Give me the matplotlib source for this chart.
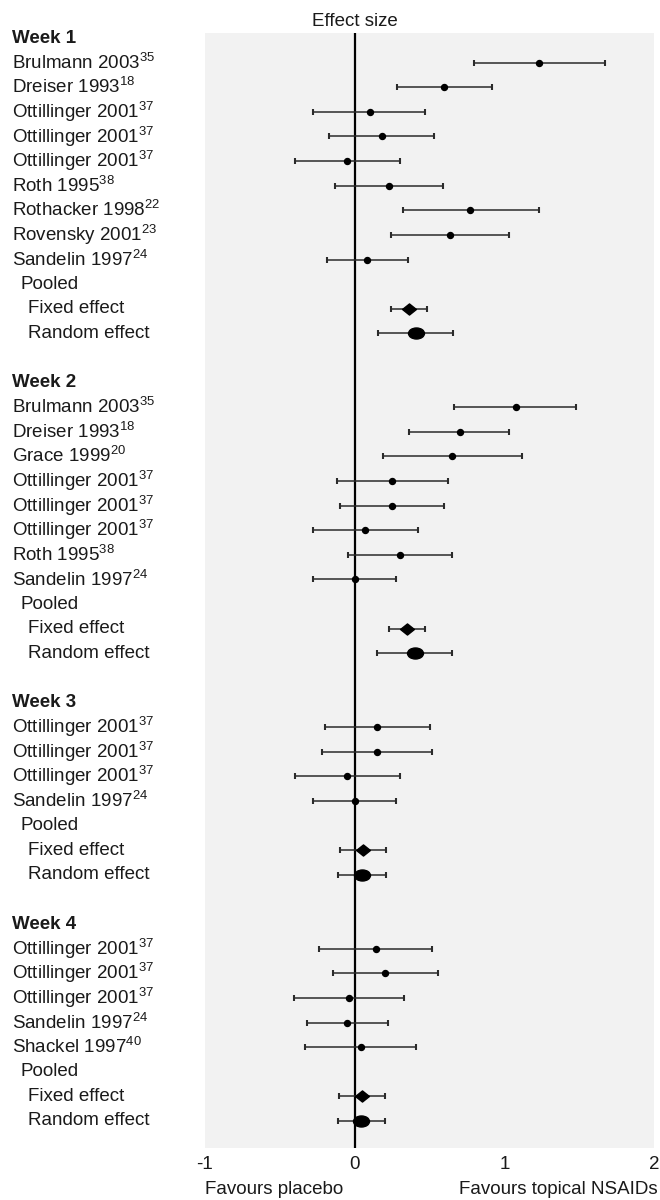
import matplotlib
matplotlib.use("Agg")
import matplotlib.pyplot as plt
from matplotlib.path import Path
from matplotlib.transforms import Affine2D, blended_transform_factory

plt.rcParams["font.family"] = ["Liberation Sans", "DejaVu Sans"]
plt.rcParams["mathtext.default"] = "regular"

# --------------------------------------------------------------------------
# Data (effect size, lower and upper 95% CI)
# --------------------------------------------------------------------------
weeks = ["Week 1", "Week 2", "Week 3", "Week 4"]

w1_studies = ["Brulmann 2003", "Dreiser 1993", "Ottillinger 2001", "Ottillinger 2001",
              "Ottillinger 2001", "Roth 1995", "Rothacker 1998", "Rovensky 2001",
              "Sandelin 1997"]
w1_refs = ["35", "18", "37", "37", "37", "38", "22", "23", "24"]
w1_est = [1.23, 0.60, 0.10, 0.18, -0.05, 0.23, 0.77, 0.64, 0.08]
w1_lo = [0.80, 0.28, -0.28, -0.17, -0.40, -0.13, 0.32, 0.24, -0.185]
w1_hi = [1.67, 0.92, 0.47, 0.53, 0.30, 0.59, 1.23, 1.03, 0.355]

w2_studies = ["Brulmann 2003", "Dreiser 1993", "Grace 1999", "Ottillinger 2001",
              "Ottillinger 2001", "Ottillinger 2001", "Roth 1995", "Sandelin 1997"]
w2_refs = ["35", "18", "20", "37", "37", "37", "38", "24"]
w2_est = [1.075, 0.705, 0.65, 0.25, 0.25, 0.07, 0.30, 0.0]
w2_lo = [0.665, 0.36, 0.19, -0.12, -0.10, -0.28, -0.045, -0.28]
w2_hi = [1.48, 1.03, 1.12, 0.625, 0.60, 0.42, 0.65, 0.275]

w3_studies = ["Ottillinger 2001", "Ottillinger 2001", "Ottillinger 2001", "Sandelin 1997"]
w3_refs = ["37", "37", "37", "24"]
w3_est = [0.15, 0.15, -0.05, 0.0]
w3_lo = [-0.20, -0.22, -0.40, -0.28]
w3_hi = [0.505, 0.515, 0.30, 0.275]

w4_studies = ["Ottillinger 2001", "Ottillinger 2001", "Ottillinger 2001", "Sandelin 1997",
              "Shackel 1997"]
w4_refs = ["37", "37", "37", "24", "40"]
w4_est = [0.14, 0.20, -0.04, -0.053, 0.04]
w4_lo = [-0.237, -0.145, -0.405, -0.32, -0.33]
w4_hi = [0.515, 0.555, 0.33, 0.22, 0.41]

# pooled: fixed and random effect per week
fixed_est = [0.36, 0.35, 0.055, 0.05]
fixed_lo = [0.245, 0.23, -0.10, -0.105]
fixed_hi = [0.48, 0.47, 0.21, 0.20]
random_est = [0.41, 0.40, 0.05, 0.045]
random_lo = [0.155, 0.15, -0.11, -0.11]
random_hi = [0.66, 0.65, 0.207, 0.20]

x_ticks = [-1, 0, 1, 2]

# --------------------------------------------------------------------------
# Plot
# --------------------------------------------------------------------------
fig = plt.figure(figsize=(6.6, 12), dpi=100)
ax = fig.add_axes([205 / 660, 1 - 1148 / 1200, 449 / 660, 1115 / 1200])
ax.set_facecolor("#f2f2f2")
for sp in ax.spines.values():
    sp.set_visible(False)

diamond = Path([(0, 1), (1.25, 0), (0, -1), (-1.25, 0), (0, 1)],
               [Path.MOVETO, Path.LINETO, Path.LINETO, Path.LINETO, Path.CLOSEPOLY])
ellipse = Path.unit_circle().transformed(Affine2D().scale(1.45, 1.0))

lab = blended_transform_factory(fig.transFigure, ax.transData)
fs = 13.5
txt_col = "#1a1a1a"
line_col = "#2b2b2b"

groups = [
    (w1_studies, w1_refs, w1_est, w1_lo, w1_hi),
    (w2_studies, w2_refs, w2_est, w2_lo, w2_hi),
    (w3_studies, w3_refs, w3_est, w3_lo, w3_hi),
    (w4_studies, w4_refs, w4_est, w4_lo, w4_hi),
]


def ci(y, est, lo, hi, marker="o", ms=4.3):
    ax.errorbar([est], [y], xerr=[[est - lo], [hi - est]], fmt="none",
                ecolor=line_col, elinewidth=1.1, capsize=2.3, capthick=1.5, zorder=3)
    ax.plot([est], [y], marker=marker, ms=ms, color="black", mec="black",
            ls="none", zorder=4)


row = 0
for g, (names, refs, est, lo, hi) in enumerate(groups):
    ax.text(12 / 660, row, weeks[g], transform=lab, fontsize=fs, fontweight="bold",
            va="center", ha="left", color=txt_col)
    row += 1
    for name, ref, e, l, h in zip(names, refs, est, lo, hi):
        ax.text(12 / 660, row, f"{name}$^{{{ref}}}$", transform=lab, fontsize=fs,
                va="center", ha="left", color=txt_col)
        ci(row, e, l, h)
        row += 1
    ax.text(20 / 660, row, "Pooled", transform=lab, fontsize=fs,
            va="center", ha="left", color=txt_col)
    row += 1
    ax.text(28 / 660, row, "Fixed effect", transform=lab, fontsize=fs,
            va="center", ha="left", color=txt_col)
    ci(row, fixed_est[g], fixed_lo[g], fixed_hi[g], marker=diamond, ms=10)
    row += 1
    ax.text(28 / 660, row, "Random effect", transform=lab, fontsize=fs,
            va="center", ha="left", color=txt_col)
    ci(row, random_est[g], random_lo[g], random_hi[g], marker=ellipse, ms=11.5)
    row += 2

last = row - 2
ax.axvline(0, color="black", lw=1.6, zorder=2)
ax.set_xlim(-1, 2)
ax.set_ylim(last + (1148 - 1121) / 24.6, -5 / 24.6)
ax.set_yticks([])
ax.set_xticks(x_ticks)
ax.set_xticklabels([str(t) for t in x_ticks])
ax.tick_params(axis="x", length=0, pad=6, labelsize=fs, labelcolor=txt_col)

ax.text(0, 1.003, "Effect size", transform=blended_transform_factory(ax.transData, ax.transAxes),
        ha="center", va="bottom", fontsize=fs, color=txt_col)
fig.text(205 / 660, 1 - 1190 / 1200, "Favours placebo", ha="left", va="center",
         fontsize=fs, color=txt_col)
fig.text(658 / 660, 1 - 1190 / 1200, "Favours topical NSAIDs", ha="right", va="center",
         fontsize=fs, color=txt_col)

fig.savefig("out.png", dpi=100, facecolor="white")
